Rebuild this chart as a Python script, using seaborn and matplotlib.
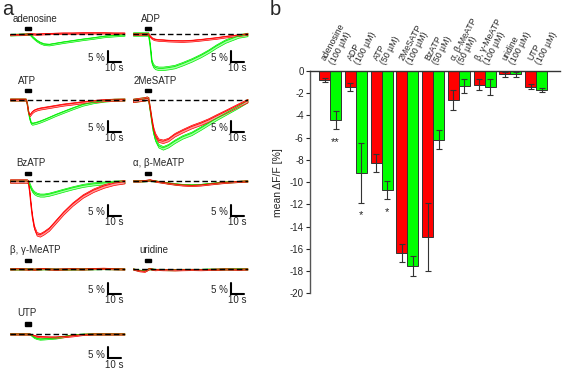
import matplotlib
matplotlib.use("Agg")
import matplotlib.pyplot as plt
import matplotlib.patches as mpatches
import numpy as np
import pandas as pd
import seaborn as sns

# ---------------- panel b: mean dF/F per agonist ----------------
agonists = ["adenosine", "ADP", "ATP", "2MeSATP", "BzATP",
            "α, β-MeATP", "β, γ-MeATP", "uridine", "UTP"]
doses = ["(100 µM)", "(100 µM)", "(50 µM)", "(100 µM)", "(50 µM)",
         "(50 µM)", "(100 µM)", "(100 µM)", "(100 µM)"]
red_mean = [-0.8, -1.4, -8.3, -16.4, -14.9, -2.6, -1.25, -0.3, -1.4]
red_sem = [0.2, 0.36, 0.8, 0.8, 3.05, 0.9, 0.5, 0.2, 0.25]
green_mean = [-4.4, -9.15, -10.7, -17.55, -6.2, -1.35, -1.45, -0.3, -1.7]
green_sem = [0.8, 2.7, 0.8, 0.9, 0.85, 0.67, 0.75, 0.2, 0.2]
star_idx = [0, 1, 2]
star_txt = ["**", "*", "*"]
star_y = [-6.4, -13.0, -12.7]

# ---------------- panel a: averaged traces (% dF/F vs s) ----------------
t_left = [0, 6, 12, 13, 14, 15, 16, 17, 18.5, 20.5, 23, 26, 30, 35, 41, 48, 56, 64, 72, 80, 88]
t_right = [0, 5, 9, 10.5, 11.8, 13, 14.3, 15.5, 17, 19.5, 23, 27, 32, 38, 45, 52, 58, 64, 71, 81, 88]

adenosine_red = [-0.3, -0.2, -0.1, 0, 0, 0.1, 0.1, 0, 0, -0.1, 0, 0.1, 0.2, 0.3, 0.4, 0.4, 0.5, 0.5, 0.5, 0.4, 0.4]
adenosine_green = [-0.3, -0.2, -0.1, 0, 0, 0, -0.5, -1.2, -2.0, -3.0, -3.9, -4.6, -4.8, -4.3, -3.7, -3.1, -2.4, -1.8, -1.1, -0.7, -0.4]
atp_red = [0, 0, 0, -1.5, -5.5, -7.2, -6.5, -5.7, -5.0, -4.5, -4.1, -3.8, -3.4, -2.9, -2.3, -1.8, -1.2, -0.7, -0.3, -0.1, 0]
atp_green = [0, 0, 0, -1.5, -5.5, -8.5, -10.5, -11.0, -10.8, -10.5, -10.0, -9.3, -8.3, -7.0, -5.6, -4.0, -2.3, -1.2, -0.5, -0.1, 0]
bzatp_red = [0, 0, 0, 0, -0.5, -5, -11, -16, -21, -24, -24.5, -23.5, -21.8, -18.5, -14.5, -10.5, -6.8, -4.2, -2.3, -1.0, -0.3]
bzatp_green = [0, 0, 0, 0, -0.3, -1.5, -3.0, -4.2, -5.3, -6.0, -6.4, -6.4, -6.0, -5.2, -4.2, -3.1, -2.0, -1.3, -0.9, -0.5, -0.3]
bgmeatp_red = [0, 0.1, 0, 0, -0.1, 0, 0.1, 0, -0.1, 0, 0.1, 0.2, 0, -0.1, 0, 0.1, 0, 0.2, 0.3, 0.1, 0]
bgmeatp_green = [0, 0, 0, 0, 0, 0, 0, 0, -0.1, -0.1, 0, 0.1, 0, -0.1, -0.1, 0, 0, 0.1, 0.2, 0.1, 0]
utp_red = [0, 0, 0, 0, 0, 0, -0.2, -0.4, -0.7, -1.0, -1.2, -1.3, -1.4, -1.4, -1.2, -0.8, -0.2, 0, 0, 0, 0]
utp_green = [0, 0, 0, 0, 0, 0, -0.3, -0.8, -1.5, -2.0, -2.3, -2.2, -2.0, -1.8, -1.2, -0.4, -0.1, 0, 0, 0, 0]

adp_red = [0, 0, 0, 0, 0, -1.0, -1.8, -2.2, -2.5, -2.7, -2.8, -3.0, -3.1, -3.2, -3.0, -2.6, -2.2, -1.8, -1.2, -0.5, 0]
adp_green = [0, 0, 0, 0, 0, -5, -12.5, -14.3, -15.2, -15.6, -15.6, -15.3, -14.8, -13.5, -11.8, -9.8, -7.8, -5.5, -3.2, -0.9, -0.2]
mesatp_red = [-0.4, 0, 0.3, 0.6, 0.3, -4, -9, -13, -16, -18.5, -19, -18.2, -16, -14.2, -12.3, -10.8, -9.3, -7.5, -5.5, -2.5, -0.5]
mesatp_green = [-0.4, 0, 0.3, 0.6, 0.3, -4.5, -10, -14.5, -18, -21, -22, -21, -19, -17, -15.4, -13, -10.8, -8.6, -6.3, -3, -0.5]
abmeatp_red = [0, 0, 0.2, 0.3, 0.4, 0.5, 0.3, 0.2, 0, -0.3, -0.6, -1.0, -1.4, -1.8, -2.0, -1.8, -1.4, -1.0, -0.6, -0.2, 0]
abmeatp_green = [0, 0, 0.1, 0.2, 0.3, 0.3, 0.2, 0.1, 0, -0.2, -0.5, -0.9, -1.3, -1.6, -1.8, -1.6, -1.2, -0.9, -0.5, -0.2, 0]
uridine_red = [0, -0.8, -1.0, -0.5, 0, 0.2, 0, -0.2, -0.3, -0.2, -0.3, -0.3, -0.4, -0.3, -0.2, -0.3, -0.2, -0.1, 0, -0.1, 0]
uridine_green = [0, -0.6, -0.8, -0.4, 0, 0.1, 0, -0.1, -0.2, -0.2, -0.2, -0.3, -0.3, -0.2, -0.2, -0.2, -0.1, -0.1, 0, 0, 0]

# (name, column, row, red, green, red sem, green sem, label x in s)
traces = [
    ("adenosine", 0, 0, adenosine_red, adenosine_green, 0.3, 0.4, 2.3),
    ("ADP", 1, 0, adp_red, adp_green, 0.4, 0.8, 6.2),
    ("ATP", 0, 1, atp_red, atp_green, 0.5, 0.5, 6.0),
    ("2MeSATP", 1, 1, mesatp_red, mesatp_green, 0.8, 0.8, 0.8),
    ("BzATP", 0, 2, bzatp_red, bzatp_green, 0.8, 0.7, 4.6),
    ("α, β-MeATP", 1, 2, abmeatp_red, abmeatp_green, 0.3, 0.3, 0.0),
    ("β, γ-MeATP", 0, 3, bgmeatp_red, bgmeatp_green, 0.3, 0.3, 0.0),
    ("uridine", 1, 3, uridine_red, uridine_green, 0.3, 0.3, 4.6),
    ("UTP", 0, 4, utp_red, utp_green, 0.3, 0.3, 5.4),
]

# ---------------- style ----------------
sns.set_style("white")
plt.rcParams["font.family"] = ["Liberation Sans", "DejaVu Sans"]
plt.rcParams["axes.unicode_minus"] = False

W, H = 567, 370
fig = plt.figure(figsize=(W / 100, H / 100), dpi=100)

RED, GREEN = "#ff0000", "#00ee00"
RED_L, GREEN_L = "#ff9c9c", "#a6ffa6"
PXP = 2.2                     # pixels per % dF/F
col_x = [10, 133]             # left edge of trace columns (px)
row_base = [34, 99.5, 181, 269, 334]   # baseline of each row (px)
stim_on = [11.5, 9.2]
stim_off_px = [4, 7.5, 6.3, 7.3, 8.3]
label_off_px = [10, 14, 13, 14, 15.5]
scale_off_px = [17, 21.5, 23.8, 13.5, 13.5]

for name, col, row, red, green, rs, gs, lx in traces:
    t = t_left if col == 0 else t_right
    ymin, ymax = -26, 8
    h = (ymax - ymin) * PXP
    top = row_base[row] - ymax * PXP
    ax = fig.add_axes([col_x[col] / W, 1 - (top + h) / H, 114.5 / W, h / H])
    ax.set_xlim(0, 88)
    ax.set_ylim(ymin, ymax)
    ax.axis("off")

    for vals, sem, c, cl in [(green, gs, GREEN, GREEN_L), (red, rs, RED, RED_L)]:
        v = np.array(vals)
        ax.fill_between(t, v - sem, v + sem, facecolor=cl, edgecolor=c, lw=0.5)
        sns.lineplot(x=t, y=vals, color=c, lw=0.6, ax=ax)
    ax.axhline(0, color="black", lw=1.0, dashes=(4, 2.2), zorder=5)

    # stimulus bar and label
    sy = stim_off_px[row] / PXP
    ax.add_patch(mpatches.Rectangle((stim_on[col], sy), 4.3, 3.2 / PXP,
                                    color="black", clip_on=False, zorder=6))
    ax.text(lx, label_off_px[row] / PXP, name, fontsize=7, va="bottom", ha="left")

    # scale bar 5 % / 10 s
    st = -scale_off_px[row] / PXP
    sb = st - 5
    ax.plot([75, 75, 85], [st, sb, sb], color="black", lw=1.5,
            solid_joinstyle="miter", clip_on=False)
    ax.text(73, sb + 0.3, "5 %", fontsize=7, ha="right", va="baseline")
    ax.text(80.5, sb - 0.6, "10 s", fontsize=7, ha="center", va="top")

fig.text(0.004, 1.0, "a", fontsize=14.5, va="top", ha="left")
fig.text(270 / W, 1.0, "b", fontsize=14.5, va="top", ha="left")

# ---------------- panel b ----------------
axb = fig.add_axes([310 / W, (H - 293.3) / H, 250 / W, 222.3 / H])
df = pd.DataFrame({
    "agonist": agonists * 2,
    "cell": ["red"] * len(agonists) + ["green"] * len(agonists),
    "value": red_mean + green_mean,
})
sns.barplot(data=df, x="agonist", y="value", hue="cell",
            palette={"red": RED, "green": "#00ff00"}, saturation=1,
            width=0.85, edgecolor="#333333", linewidth=0.7,
            errorbar=None, legend=False, ax=axb)

for cont, sems in zip(axb.containers, [red_sem, green_sem]):
    for bar, s in zip(cont, sems):
        xc = bar.get_x() + bar.get_width() / 2
        axb.errorbar(xc, bar.get_height(), yerr=s, fmt="none", ecolor="#333333",
                     elinewidth=0.8, capsize=2.2, capthick=0.8, zorder=4)

for i, txt, y in zip(star_idx, star_txt, star_y):
    xc = axb.containers[1][i].get_x() + axb.containers[1][i].get_width() / 2
    axb.text(xc, y, txt, fontsize=8, ha="center", va="center", color="#222222")

for i, (a, d) in enumerate(zip(agonists, doses)):
    axb.text(i + 0.22, 0.45, a + "\n" + d, fontsize=6.3, rotation=62,
             rotation_mode="anchor", ha="left", va="bottom", linespacing=1.0)

axb.set_xlim(-0.78, 8.93)
axb.set_ylim(-20, 0)
axb.set_yticks(range(-20, 1, 2))
axb.set_yticklabels([str(v) for v in range(-20, 1, 2)], fontsize=7)
axb.set_xticks([])
axb.set_xlabel("")
axb.set_ylabel("mean ΔF/F [%]", fontsize=7.5, labelpad=5)
axb.tick_params(axis="y", direction="out", length=3, width=0.8, pad=1.5, left=True)
for side in ["right", "bottom"]:
    axb.spines[side].set_visible(False)
axb.spines["left"].set_color("#555555")
axb.spines["left"].set_linewidth(1.0)
axb.spines["top"].set_color("#333333")
axb.spines["top"].set_linewidth(1.0)
axb.patch.set_alpha(0)

fig.savefig("out.png", dpi=100)
plt.close(fig)
